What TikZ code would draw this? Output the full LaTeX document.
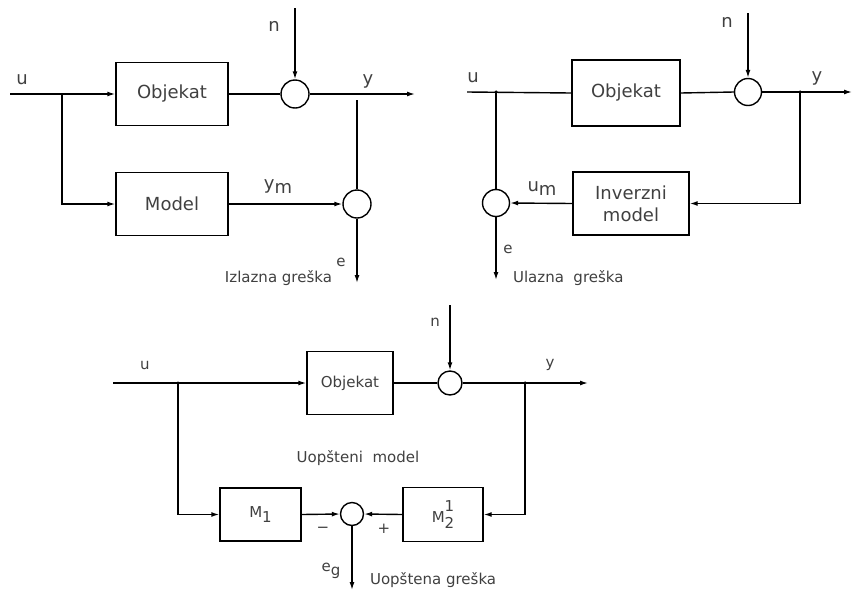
\documentclass[tikz,border=0pt]{standalone}
\usepackage{fontspec}
\setmainfont{DejaVu Sans}
\usetikzlibrary{arrows.meta}
\begin{document}
\begin{tikzpicture}[x=1pt,y=-1pt,line width=1.4pt,
  blk/.style={draw,inner sep=0pt,align=center,text=black!75},
  sumc/.style={draw,circle,inner sep=0pt},
  big/.style={font=\fontsize{18}{22}\selectfont,text=black!75},
  sml/.style={font=\fontsize{15}{18}\selectfont,text=black!75},
  arr/.style={-{Latex[length=8pt,width=5pt]}},
  jdot/.style={circle,fill,inner sep=0pt,minimum size=3.5pt}]
\useasboundingbox (0,0) rectangle (853,592);
% ---------- top left ----------
\node[blk,big,minimum width=112pt,minimum height=63pt] (ob1) at (172,94) {Objekat};
\node[blk,big,minimum width=112pt,minimum height=63pt] (mo1) at (172,204) {Model};
\node[sumc,minimum size=28pt] (s1) at (295,94) {};
\node[sumc,minimum size=28pt] (s2) at (357,204) {};
\coordinate (u1) at (10,94);
\coordinate (b1) at (62,94);
\coordinate (y1) at (415,94);
\coordinate (n1) at (295,8);
\coordinate (j1) at (357,100);
\coordinate (e1) at (357,283);
\draw[arr] (u1) -- (ob1.west);
\draw (ob1.east) -- (s1.west);
\draw[arr] (n1) -- (s1.north);
\draw[arr] (s1.east) -- (y1);
\draw (j1) -- (s2.north);
\draw[arr] (b1) |- (mo1.west);
\draw[arr] (mo1.east) -- (s2.west);
\draw[arr] (s2.south) -- (e1);
\node[big] (lu1) at (22,80) {u};
\node[big] (ln1) at (274,26) {n};
\node[big] (ly1) at (368,81) {y};
\node[big] (lym1) at (278,187) {y\raisebox{-4pt}{m}};
\node[sml] (le1) at (341,262) {e};
\node[sml,anchor=base east] (lie1) at (336,282) {Izlazna greška};
% ---------- top right ----------
\node[blk,big,minimum width=108pt,minimum height=66pt] (ob2) at (626,93) {Objekat};
\node[blk,big,minimum width=116pt,minimum height=63pt] (inv) at (631,203.5) {Inverzni\\model};
\node[sumc,minimum size=27pt] (s3) at (748,92) {};
\node[sumc,minimum size=27pt] (s4) at (496,203) {};
\coordinate (u2) at (467,92);
\coordinate (y2) at (852,92);
\coordinate (n2) at (748,13);
\node[jdot] (j2) at (800,92) {};
\node[jdot] (j3) at (496,92) {};
\coordinate (e2) at (496,280);
\draw (u2) -- (ob2.west);
\draw (ob2.east) -- (s3.west);
\draw[arr] (n2) -- (s3.north);
\draw[arr] (s3.east) -- (y2);
\draw[arr] (j2.center) |- (inv.east);
\draw[arr] (inv.west) -- (s4.east);
\draw (j3.center) -- (s4.north);
\draw[arr] (s4.south) -- (e2);
\node[big] (lu2) at (473,78) {u};
\node[big] (ln2) at (727,22) {n};
\node[big] (ly2) at (817,78) {y};
\node[big] (lum2) at (542,188) {u\raisebox{-4pt}{m}};
\node[sml] (le2) at (508,249) {e};
\node[sml,anchor=base west] (lue2) at (509,282) {Ulazna\ \ greška};
% ---------- bottom ----------
\node[blk,sml,minimum width=86pt,minimum height=63pt] (ob3) at (350,383) {Objekat};
\node[blk,sml,minimum width=81pt,minimum height=53pt] (m1) at (260.5,514.5) {M\raisebox{-5pt}{1}};
\node[blk,sml,minimum width=80pt,minimum height=54pt] (m2) at (443,514.5) {M\rlap{\raisebox{11pt}{1}}\raisebox{-6pt}{2}};
\node[sumc,minimum size=24pt] (s5) at (450,383) {};
\node[sumc,minimum size=23pt] (s6) at (352,514) {};
\coordinate (u3) at (113,383);
\coordinate (y3) at (588,383);
\coordinate (n3) at (450,305);
\node[jdot] (j4) at (178,383) {};
\node[jdot] (j5) at (525,383) {};
\coordinate (e3) at (352,590);
\draw[arr] (u3) -- (ob3.west);
\draw (ob3.east) -- (s5.west);
\draw[arr] (n3) -- (s5.north);
\draw[arr] (s5.east) -- (y3);
\draw[arr] (j4.center) |- (m1.west);
\draw[arr] (j5.center) |- (m2.east);
\draw[arr] (m1.east) -- (s6.west);
\draw[arr] (m2.west) -- (s6.east);
\draw[arr] (s6.south) -- (e3);
\node[sml] (lu3) at (145,365) {u};
\node[sml] (ln3) at (435,322) {n};
\node[sml] (ly3) at (550,365) {y};
\node[sml] (lmod) at (358,458) {Uopšteni\ \ model};
\node[sml] (lmin) at (323,530) {\textminus};
\node[sml] (lplus) at (384,529) {+};
\node[sml] (leg) at (331,571) {e\raisebox{-4pt}{g}};
\node[sml,anchor=base west] (lug) at (366,584) {Uopštena greška};
\end{tikzpicture}
\end{document}
